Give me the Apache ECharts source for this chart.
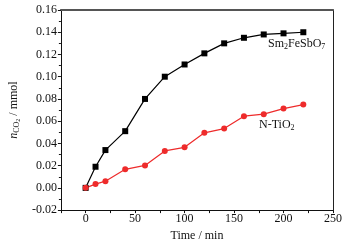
<!DOCTYPE html>
<html><head><meta charset="utf-8">
<script src="https://cdn.jsdelivr.net/npm/echarts@6/dist/echarts.min.js"></script>
<style>html,body{margin:0;padding:0;background:#fff}#c{width:360px;height:247px}</style>
</head><body><div id="c"></div>
<script>
const times = [0, 10, 20, 40, 60, 80, 100, 120, 140, 160, 180, 200, 220];
const smFeSbO7 = [0, 0.019, 0.034, 0.051, 0.080, 0.100, 0.111, 0.121, 0.130, 0.135, 0.138, 0.139, 0.140];
const nTiO2 = [0, 0.0034, 0.006, 0.0167, 0.0202, 0.0332, 0.0365, 0.0495, 0.0533, 0.0645, 0.0663, 0.0713, 0.0749];
const xTickLabels = [0, 50, 100, 150, 200, 250];

const font = 'Liberation Serif';
const chart = echarts.init(document.getElementById('c'), null, {renderer: 'canvas'});
const pair = (xs, ys) => xs.map((x, i) => [x, ys[i]]);
chart.setOption({
  backgroundColor: '#fff',
  animation: false,
  grid: {left: 59, right: 27, top: 10, bottom: 34},
  xAxis: [{
    type: 'value', min: -25, max: 250, interval: 25,
    name: 'Time / min', nameLocation: 'middle', nameGap: 18,
    nameTextStyle: {fontFamily: font, fontSize: 12, color: '#111'},
    axisLine: {show: true, onZero: false, lineStyle: {color: '#111', width: 1}},
    axisTick: {show: true, inside: false, length: 3, lineStyle: {color: '#111'}},
    axisLabel: {fontFamily: font, fontSize: 12, color: '#111', margin: 3,
      formatter: v => xTickLabels.includes(v) ? String(v) : ''},
    splitLine: {show: false}
  }, {
    type: 'value', position: 'top', min: -25, max: 250,
    axisLine: {show: true, onZero: false, lineStyle: {color: '#555', width: 2}},
    axisTick: {show: false}, axisLabel: {show: false}, splitLine: {show: false}
  }],
  yAxis: [{
    type: 'value', min: -0.02, max: 0.16, interval: 0.02,
    name: '{i|n}{sub|CO}{sub2|2}{n| / mmol}', nameLocation: 'middle', nameGap: 37,
    nameTextStyle: {fontFamily: font, fontSize: 12, color: '#111',
      rich: {
        i: {fontFamily: font, fontStyle: 'italic', fontSize: 12, color: '#111'},
        n: {fontFamily: font, fontSize: 12, color: '#111'},
        sub: {fontFamily: font, fontSize: 8, color: '#111', padding: [5, 0, 0, 0]},
        sub2: {fontFamily: font, fontSize: 6, color: '#111', padding: [8, 0, 0, 0]}
      }},
    axisLine: {show: true, onZero: false, lineStyle: {color: '#111', width: 1}},
    axisTick: {show: true, inside: false, length: 3, lineStyle: {color: '#111'}},
    minorTick: {show: true, splitNumber: 2, length: 2, lineStyle: {color: '#111'}},
    axisLabel: {fontFamily: font, fontSize: 12, color: '#111', margin: 4,
      formatter: v => v.toFixed(2)},
    splitLine: {show: false}
  }, {
    type: 'value', position: 'right', min: -0.02, max: 0.16,
    axisLine: {show: true, onZero: false, lineStyle: {color: '#222', width: 1}},
    axisTick: {show: false}, axisLabel: {show: false}, splitLine: {show: false}
  }],
  series: [{
    name: 'Sm2FeSbO7', type: 'line', data: pair(times, smFeSbO7),
    symbol: 'rect', symbolSize: 6, showAllSymbol: true,
    lineStyle: {color: '#000', width: 1.2}, itemStyle: {color: '#000'}
  }, {
    name: 'N-TiO2', type: 'line', data: pair(times, nTiO2),
    symbol: 'circle', symbolSize: 6, showAllSymbol: true,
    lineStyle: {color: '#ee2b2b', width: 1.2}, itemStyle: {color: '#ee2b2b'}
  }],
  graphic: [{
    type: 'text', left: 268, top: 38,
    style: {text: 'Sm{s|2}FeSbO{s|7}', fontFamily: font, fontSize: 12, fill: '#111',
      rich: {s: {fontFamily: font, fontSize: 8, fill: '#111', padding: [6, 0, 0, 0]}}}
  }, {
    type: 'text', left: 259, top: 119,
    style: {text: 'N-TiO{s|2}', fontFamily: font, fontSize: 12, fill: '#111',
      rich: {s: {fontFamily: font, fontSize: 8, fill: '#111', padding: [6, 0, 0, 0]}}}
  }]
});
</script></body></html>
